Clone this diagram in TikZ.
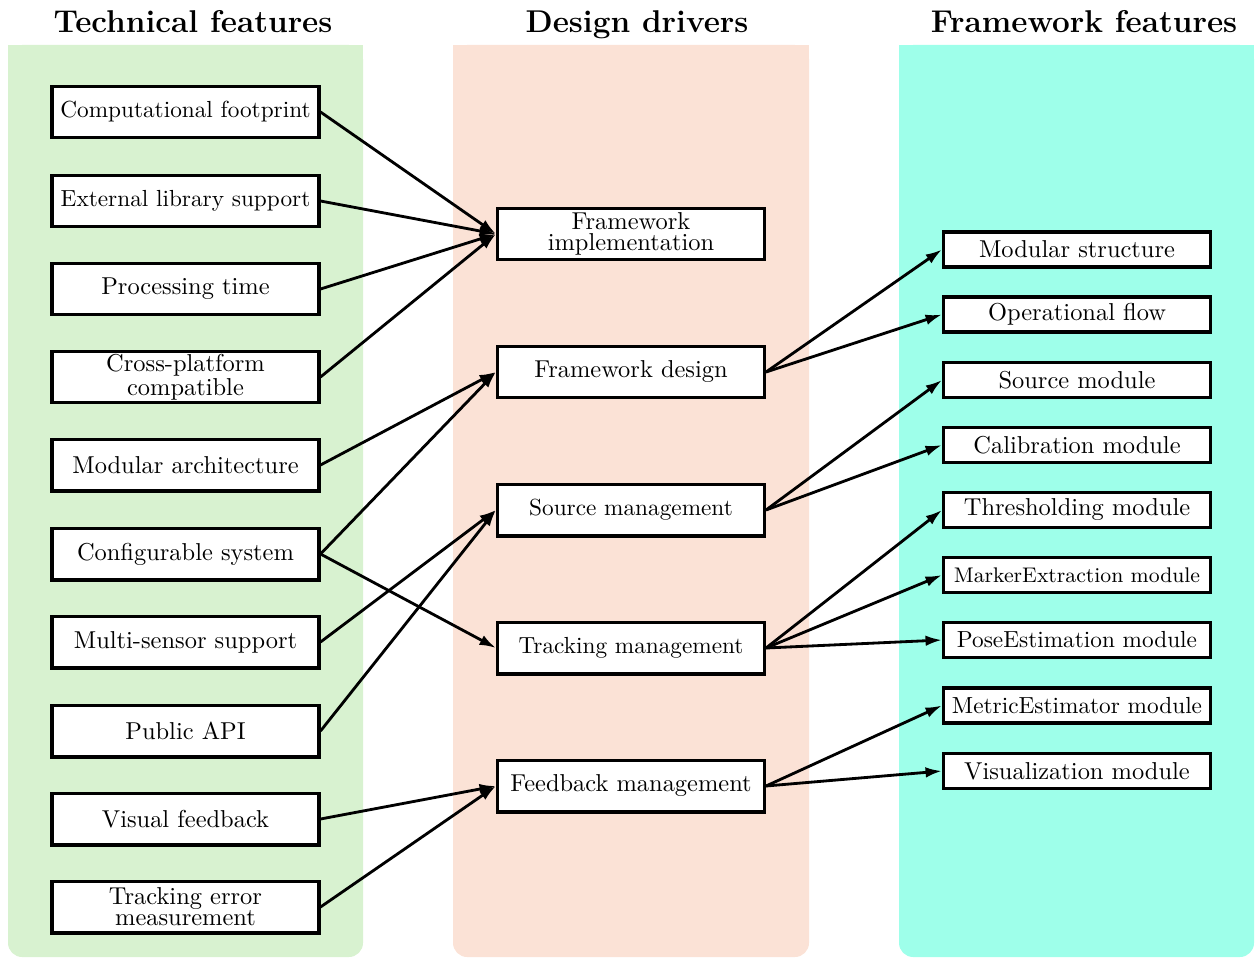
\documentclass[tikz,border=0pt]{standalone}
\usetikzlibrary{arrows.meta}
\definecolor{pgreen}{RGB}{216,242,208}
\definecolor{ppeach}{RGB}{251,226,214}
\definecolor{pcyan}{RGB}{158,255,234}
\begin{document}
\begin{tikzpicture}[x=0.4255pt,y=-0.4255pt,
  font={\fontsize{10.4pt}{12.5pt}\selectfont},
  bigbox/.style={draw=black, line width=1.3pt, fill=white, minimum width=113.6pt, minimum height=22.1pt, inner sep=1pt, align=center},
  smallbox/.style={draw=black, line width=1.3pt, fill=white, minimum width=113.6pt, minimum height=14.9pt, inner sep=1pt, align=center},
  twoline/.style={font={\fontsize{10.4pt}{9pt}\selectfont}},
  tight/.style={font={\fontsize{9.9pt}{12pt}\selectfont}},
  title/.style={font={\fontsize{13.4pt}{16pt}\selectfont\bfseries}, anchor=base},
  arr/.style={-{Latex[length=7pt,width=4.5pt]}, line width=1.2pt},
  panelA/.style={fill=pgreen},
  panelB/.style={fill=ppeach},
  panelC/.style={fill=pcyan}
]
\useasboundingbox (0,0) rectangle (1257,958);
% panels
\fill[panelA, rounded corners=6pt] (8,45) rectangle (363,957);
\fill[panelA] (8,45) rectangle (363,120);
\fill[panelB, rounded corners=6pt] (453,45) rectangle (809,957);
\fill[panelB] (453,45) rectangle (809,120);
\fill[panelC, rounded corners=6pt] (899,45) rectangle (1254,957);
\fill[panelC] (899,45) rectangle (1254,120);
% titles
\node[title] (t1) at (193,33) {Technical features};
\node[title] (t2) at (637,33) {Design drivers};
\node[title] (t3) at (1084,33) {Framework features};
% left column
\node[bigbox, tight] (l1) at (185.5,112) {Computational footprint};
\node[bigbox, tight] (l2) at (185.5,201) {External library support};
\node[bigbox] (l3) at (185.5,289) {Processing time};
\node[bigbox, twoline] (l4) at (185.5,377) {Cross-platform\\compatible};
\node[bigbox] (l5) at (185.5,465) {Modular architecture};
\node[bigbox] (l6) at (185.5,554) {Configurable system};
\node[bigbox] (l7) at (185.5,642) {Multi-sensor support};
\node[bigbox] (l8) at (185.5,731) {Public API};
\node[bigbox] (l9) at (185.5,819) {Visual feedback};
\node[bigbox, twoline] (l10) at (185.5,907) {Tracking error\\measurement};
% middle column
\node[bigbox, twoline] (m1) at (631,234) {Framework\\implementation};
\node[bigbox] (m2) at (631,372) {Framework design};
\node[bigbox, tight] (m3) at (631,510) {Source management};
\node[bigbox, tight] (m4) at (631,648) {Tracking management};
\node[bigbox] (m5) at (631,786) {Feedback management};
% right column
\node[smallbox] (r1) at (1077,249.5) {Modular structure};
\node[smallbox] (r2) at (1077,314.5) {Operational flow};
\node[smallbox] (r3) at (1077,380) {Source module};
\node[smallbox] (r4) at (1077,445) {Calibration module};
\node[smallbox] (r5) at (1077,510) {Thresholding module};
\node[smallbox, font={\fontsize{9pt}{11pt}\selectfont}] (r6) at (1077,575) {MarkerExtraction module};
\node[smallbox, tight] (r7) at (1077,640) {PoseEstimation module};
\node[smallbox, tight] (r8) at (1077,705.5) {MetricEstimator module};
\node[smallbox] (r9) at (1077,771) {Visualization module};
% left -> middle
\draw[arr] (l1.east) -- (m1.west);
\draw[arr] (l2.east) -- (m1.west);
\draw[arr] (l3.east) -- (m1.west);
\draw[arr] (l4.east) -- (m1.west);
\draw[arr] (l5.east) -- (m2.west);
\draw[arr] (l6.east) -- (m2.west);
\draw[arr] (l6.east) -- (m4.west);
\draw[arr] (l7.east) -- (m3.west);
\draw[arr] (l8.east) -- (m3.west);
\draw[arr] (l9.east) -- (m5.west);
\draw[arr] (l10.east) -- (m5.west);
% middle -> right
\draw[arr] (m2.east) -- (r1.west);
\draw[arr] (m2.east) -- (r2.west);
\draw[arr] (m3.east) -- (r3.west);
\draw[arr] (m3.east) -- (r4.west);
\draw[arr] (m4.east) -- (r5.west);
\draw[arr] (m4.east) -- (r6.west);
\draw[arr] (m4.east) -- (r7.west);
\draw[arr] (m5.east) -- (r8.west);
\draw[arr] (m5.east) -- (r9.west);
\end{tikzpicture}
\end{document}
